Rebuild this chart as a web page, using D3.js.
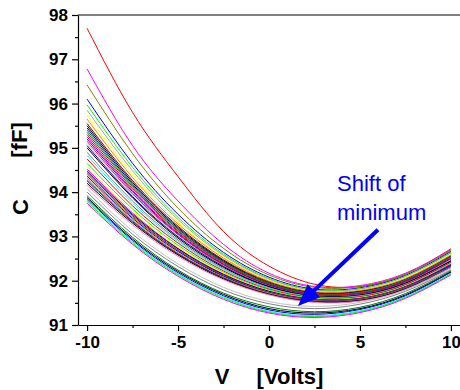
<!DOCTYPE html>
<html>
<head>
<meta charset="utf-8">
<script src="https://cdn.jsdelivr.net/npm/d3@7"></script>
<style>
    body { margin: 0; background: #fff; }
    svg { display: block; font-family: "Liberation Sans", Arial, sans-serif; }
    .tick text { font-size: 17px; font-weight: bold; fill: #000; }
</style>
</head>
<body>
<svg></svg>
<script>
// C-V curves, one row per measured curve, values in fF at the voltages below
const voltages = [-10, -7.5, -5, -2.5, 0, 2.5, 5, 7.5, 10]

const capSeries = [
    [97.70, 95.80, 94.35, 93.11, 92.33, 91.92, 91.87, 92.15, 92.72],
    [96.78, 95.05, 93.80, 92.82, 92.17, 91.87, 91.89, 92.17, 92.70],
    [96.42, 94.87, 93.64, 92.73, 92.13, 91.85, 91.87, 92.15, 92.68],
    [96.10, 94.65, 93.50, 92.64, 92.08, 91.81, 91.84, 92.12, 92.66],
    [95.97, 94.56, 93.43, 92.60, 92.05, 91.79, 91.82, 92.10, 92.64],
    [95.85, 94.48, 93.38, 92.57, 92.03, 91.78, 91.81, 92.09, 92.62],
    [95.74, 94.40, 93.32, 92.53, 92.01, 91.76, 91.79, 92.07, 92.60],
    [95.65, 94.33, 93.28, 92.51, 91.99, 91.75, 91.78, 92.05, 92.58],
    [95.55, 94.26, 93.23, 92.47, 91.97, 91.73, 91.76, 92.03, 92.56],
    [95.50, 94.22, 93.20, 92.45, 91.95, 91.72, 91.75, 92.02, 92.55],
    [95.45, 94.18, 93.17, 92.43, 91.93, 91.70, 91.72, 92.00, 92.52],
    [95.40, 94.15, 93.16, 92.42, 91.94, 91.71, 91.74, 92.02, 92.55],
    [95.35, 94.12, 93.13, 92.41, 91.93, 91.70, 91.72, 91.99, 92.50],
    [95.30, 94.08, 93.11, 92.39, 91.91, 91.69, 91.72, 91.99, 92.52],
    [95.25, 94.04, 93.08, 92.37, 91.90, 91.68, 91.70, 91.97, 92.48],
    [95.20, 94.01, 93.06, 92.36, 91.90, 91.68, 91.70, 91.98, 92.50],
    [95.15, 93.97, 93.04, 92.34, 91.88, 91.67, 91.69, 91.96, 92.46],
    [95.10, 93.94, 93.01, 92.33, 91.87, 91.66, 91.68, 91.95, 92.47],
    [95.05, 93.90, 92.99, 92.32, 91.87, 91.66, 91.68, 91.95, 92.45],
    [95.00, 93.87, 92.96, 92.30, 91.86, 91.65, 91.67, 91.94, 92.44],
    [94.90, 93.80, 92.92, 92.27, 91.84, 91.64, 91.66, 91.92, 92.42],
    [94.83, 93.75, 92.89, 92.25, 91.83, 91.63, 91.65, 91.91, 92.40],
    [94.75, 93.69, 92.85, 92.22, 91.81, 91.62, 91.64, 91.91, 92.42],
    [94.65, 93.62, 92.80, 92.19, 91.79, 91.60, 91.62, 91.88, 92.38],
    [94.58, 93.57, 92.76, 92.17, 91.77, 91.59, 91.61, 91.87, 92.36],
    [94.52, 93.53, 92.73, 92.15, 91.76, 91.58, 91.60, 91.87, 92.37],
    [94.48, 93.50, 92.72, 92.14, 91.76, 91.58, 91.60, 91.86, 92.35],
    [94.44, 93.47, 92.69, 92.12, 91.74, 91.57, 91.59, 91.86, 92.36],
    [94.40, 93.44, 92.68, 92.11, 91.74, 91.57, 91.59, 91.85, 92.33],
    [94.36, 93.41, 92.66, 92.10, 91.73, 91.56, 91.58, 91.84, 92.34],
    [94.32, 93.38, 92.63, 92.08, 91.72, 91.55, 91.57, 91.83, 92.32],
    [94.28, 93.35, 92.61, 92.07, 91.70, 91.54, 91.56, 91.83, 92.33],
    [94.25, 93.33, 92.60, 92.06, 91.70, 91.54, 91.56, 91.82, 92.31],
    [94.20, 93.30, 92.58, 92.04, 91.69, 91.52, 91.55, 91.81, 92.30],
    [94.15, 93.26, 92.55, 92.02, 91.68, 91.51, 91.54, 91.80, 92.30],
    [94.08, 93.12, 92.38, 91.85, 91.53, 91.42, 91.51, 91.79, 92.26],
    [94.00, 93.05, 92.32, 91.79, 91.48, 91.37, 91.47, 91.76, 92.24],
    [93.92, 92.98, 92.24, 91.72, 91.41, 91.30, 91.40, 91.71, 92.22],
    [93.88, 92.94, 92.21, 91.69, 91.37, 91.27, 91.37, 91.68, 92.20],
    [93.85, 92.91, 92.18, 91.66, 91.34, 91.24, 91.35, 91.66, 92.19],
    [93.82, 92.88, 92.15, 91.63, 91.31, 91.21, 91.32, 91.63, 92.16],
    [93.79, 92.85, 92.13, 91.61, 91.29, 91.19, 91.30, 91.62, 92.15],
    [93.75, 92.82, 92.10, 91.58, 91.27, 91.17, 91.28, 91.60, 92.13]
]

const curveColors = [
    "#ff0000", "#ff00ff", "#808000", "#0000ff", "#00ff00", "#a0a0a0", "#ffff00", "#ff8000",
    "#800000", "#000000", "#000080", "#008080", "#008000", "#ff0000", "#8000ff", "#800080",
    "#ff0080", "#c0c0c0", "#0000a0", "#000000", "#808080", "#00ffff", "#ff0000", "#00ff00",
    "#ffff00", "#ff00ff", "#000080", "#800000", "#808000", "#0000ff", "#ff8000", "#008080",
    "#800080", "#000000", "#ff80c0", "#c0c0c0", "#808080", "#008000", "#000000", "#0000ff",
    "#00ffff", "#00ff00", "#ff00ff"
]

const xTicks = [-10, -5, 0, 5, 10]
const xMinor = [-7.5, -2.5, 2.5, 7.5]
const yTicks = [91, 92, 93, 94, 95, 96, 97, 98]
const yMinor = [91.5, 92.5, 93.5, 94.5, 95.5, 96.5, 97.5]

const noteLines = ["Shift of", "minimum"]
const noteAt = [3.74, 94.03]
const arrowFrom = [5.99, 93.15]
const arrowTo = [1.59, 91.43]

const width = 460
const height = 390
const margin = { top: 15, right: 0, bottom: 65, left: 78 }

const svg = d3.select('svg')
    .attr("width", width)
    .attr("height", height)

const x = d3.scaleLinear()
    .domain([-10.5, 10.5])
    .range([margin.left, width - margin.right])

const y = d3.scaleLinear()
    .domain([91, 98])
    .range([height - margin.bottom, margin.top])

// curves
const lijn = d3.line()
    .x((d, i) => x(voltages[i]))
    .y(d => y(d))
    .curve(d3.curveNatural)

svg.append('g')
    .selectAll('path')
    .data(capSeries)
    .enter()
    .append('path')
    .attr('d', d => lijn(d))
    .attr('fill', 'none')
    .attr('stroke', (d, i) => curveColors[i])
    .attr('stroke-width', 1)

// axes
const xAxis = svg.append('g')
    .attr('transform', `translate(0,${y(91)})`)
    .call(d3.axisBottom(x).tickValues(xTicks).tickSize(6).tickSizeOuter(0).tickPadding(5).tickFormat(d3.format("d")))
svg.append('g')
    .attr('transform', `translate(0,${y(91)})`)
    .call(d3.axisBottom(x).tickValues(xMinor).tickSize(3).tickSizeOuter(0).tickFormat(""))
    .select('.domain').remove()

const yAxis = svg.append('g')
    .attr('transform', `translate(${x(-10.5)},0)`)
    .call(d3.axisLeft(y).tickValues(yTicks).tickSize(6).tickSizeOuter(0).tickPadding(4).tickFormat(d3.format("d")))
svg.append('g')
    .attr('transform', `translate(${x(-10.5)},0)`)
    .call(d3.axisLeft(y).tickValues(yMinor).tickSize(3).tickSizeOuter(0).tickFormat(""))
    .select('.domain').remove()

svg.selectAll('.domain, .tick line')
    .attr('stroke', '#000')
    .attr('stroke-width', 1.2)
svg.selectAll('.tick text').attr('font-family', '"Liberation Sans", Arial, sans-serif')
// the minus sign in the reference is a plain hyphen
xAxis.selectAll('.tick text').text(d => String(d))

// top frame
svg.append('line')
    .attr('x1', x(-10.5)).attr('x2', x(10.5))
    .attr('y1', y(98)).attr('y2', y(98))
    .attr('stroke', '#000')
    .attr('stroke-width', 1.2)

// axis titles
const titel = { 'font-size': '22px', 'font-weight': 'bold', 'text-anchor': 'middle', fill: '#000' }

function zetTekst(sel, attrs) {
    Object.entries(attrs).forEach(([k, v]) => sel.attr(k, v))
    return sel
}

zetTekst(svg.append('text'), titel).attr('x', 222).attr('y', 384).text('V')
zetTekst(svg.append('text'), titel).attr('x', 290).attr('y', 384).text('[Volts]')
zetTekst(svg.append('text'), titel).attr('transform', 'translate(28,207) rotate(-90)').text('C')
zetTekst(svg.append('text'), titel).attr('transform', 'translate(27,140) rotate(-90)').text('[fF]')

// annotation
svg.append('g')
    .selectAll('text')
    .data(noteLines)
    .enter()
    .append('text')
    .attr('x', x(noteAt[0]))
    .attr('y', (d, i) => y(noteAt[1]) + i * 29)
    .attr('font-size', '22px')
    .attr('fill', '#0000ff')
    .text(d => d)

const x0 = x(arrowFrom[0]), y0 = y(arrowFrom[1])
const x1 = x(arrowTo[0]), y1 = y(arrowTo[1])
const len = Math.hypot(x1 - x0, y1 - y0)
const ux = (x1 - x0) / len, uy = (y1 - y0) / len
const kop = 22, half = 9
const bx = x1 - ux * kop, by = y1 - uy * kop

svg.append('line')
    .attr('x1', x0).attr('y1', y0)
    .attr('x2', bx + ux * 2).attr('y2', by + uy * 2)
    .attr('stroke', '#0000ff')
    .attr('stroke-width', 4)

svg.append('path')
    .attr('d', `M${x1},${y1}L${bx - uy * half},${by + ux * half}L${bx + uy * half},${by - ux * half}Z`)
    .attr('fill', '#0000ff')
</script>
</body>
</html>
